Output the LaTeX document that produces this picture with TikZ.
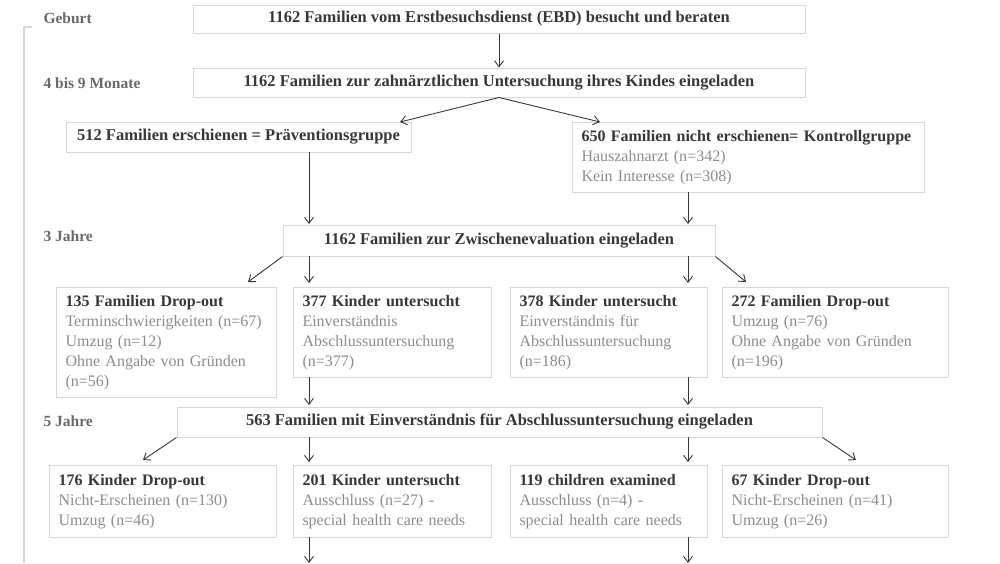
\documentclass[tikz,border=0pt]{standalone}
\usepackage{fontspec}
\setmainfont{Liberation Serif}
\usetikzlibrary{positioning,arrows.meta}
\definecolor{boxgray}{RGB}{215,215,215}
\definecolor{headgray}{RGB}{55,55,55}
\definecolor{subgray}{RGB}{140,140,140}
\tikzset{
  box/.style={draw=boxgray, line width=1pt, inner sep=0pt},
  head/.style={box, font=\fontsize{16.5}{20}\selectfont\bfseries, text=headgray},
  list/.style={box, anchor=north west, align=left, inner xsep=9pt, inner ysep=6pt,
    font=\fontsize{16}{20}\selectfont, text=subgray},
  phase/.style={anchor=west, font=\fontsize{15.5}{18}\selectfont\bfseries, text=headgray!75},
  arr/.style={-{Straight Barb[length=6pt,width=9pt]}, line width=0.9pt, draw=headgray}
}
\newcommand{\hd}[1]{\textcolor{headgray}{\bfseries #1}}
\begin{document}
\begin{tikzpicture}[x=1pt,y=-1pt]
  \useasboundingbox (0,0) rectangle (1000,563);
  % time axis
  \draw[boxgray, line width=1.5pt] (32,27) -- (24,27) -- (24,563);
  \node[phase] (t0) at (40,18) {Geburt};
  \node[phase] (t1) at (40,83) {4 bis 9 Monate};
  \node[phase] (t2) at (40,236) {3 Jahre};
  \node[phase] (t3) at (40,421) {5 Jahre};
  % rows
  \node[head, minimum width=612, minimum height=28] (ebd) at (499,19) {1162 Familien vom Erstbesuchsdienst (EBD) besucht und beraten};
  \node[head, minimum width=612, minimum height=29] (inv) at (499,82.5) {1162 Familien zur zahnärztlichen Untersuchung ihres Kindes eingeladen};
  \node[head, minimum width=345, minimum height=30] (prev) at (238.5,137) {512 Familien erschienen = Präventionsgruppe};
  \node[list, text width=334, minimum height=70] (ctrl) at (572,122) {\hd{650 Familien nicht erschienen= Kontrollgruppe}\\Hauszahnarzt (n=342)\\Kein Interesse (n=308)};
  \node[head, minimum width=432, minimum height=31] (mid) at (499,240.5) {1162 Familien zur Zwischenevaluation eingeladen};
  \node[list, text width=202, minimum height=110] (dA) at (56,287) {\hd{135 Familien Drop-out}\\Terminschwierigkeiten (n=67)\\Umzug (n=12)\\Ohne Angabe von Gründen\\(n=56)};
  \node[list, text width=180, minimum height=90] (uA) at (293,287) {\hd{377 Kinder untersucht}\\Einverständnis\\Abschlussuntersuchung\\(n=377)};
  \node[list, text width=179, minimum height=90] (uB) at (510,287) {\hd{378 Kinder untersucht}\\Einverständnis für\\Abschlussuntersuchung\\(n=186)};
  \node[list, text width=208, minimum height=90] (dB) at (722,287) {\hd{272 Familien Drop-out}\\Umzug (n=76)\\Ohne Angabe von Gründen\\(n=196)};
  \node[head, minimum width=645, minimum height=30] (fin) at (499.5,422) {563 Familien mit Einverständnis für Abschlussuntersuchung eingeladen};
  \node[list, text width=209, minimum height=72] (dC) at (49,465) {\hd{176 Kinder Drop-out}\\Nicht-Erscheinen (n=130)\\Umzug (n=46)};
  \node[list, text width=180, minimum height=72] (uC) at (293,465) {\hd{201 Kinder untersucht}\\Ausschluss (n=27) -\\special health care needs};
  \node[list, text width=179, minimum height=72] (uD) at (510,465) {\hd{119 children examined}\\Ausschluss (n=4) -\\special health care needs};
  \node[list, text width=208, minimum height=72] (dD) at (722,465) {\hd{67 Kinder Drop-out}\\Nicht-Erscheinen (n=41)\\Umzug (n=26)};
  \coordinate (endA) at (309,563);
  \coordinate (endB) at (688,563);
  % arrows
  \draw[arr] (ebd) -- (inv);
  \draw[arr] (inv.south) -- (400,122);
  \draw[arr] (inv.south) -- (600,122);
  \draw[arr] (309,152) -- (309,224);
  \draw[arr] (688,192) -- (688,224);
  \draw[arr] (mid.south west) -- (248,282);
  \draw[arr] (309,256) -- (309,283);
  \draw[arr] (688,256) -- (688,283);
  \draw[arr] (mid.south east) -- (746,282);
  \draw[arr] (309,377) -- (309,405);
  \draw[arr] (688,377) -- (688,405);
  \draw[arr] (fin.south west) -- (143,460);
  \draw[arr] (309,437) -- (309,462);
  \draw[arr] (688,437) -- (688,462);
  \draw[arr] (fin.south east) -- (856,460);
  \draw[arr] (309,537) -- (endA);
  \draw[arr] (688,537) -- (endB);
\end{tikzpicture}
\end{document}
